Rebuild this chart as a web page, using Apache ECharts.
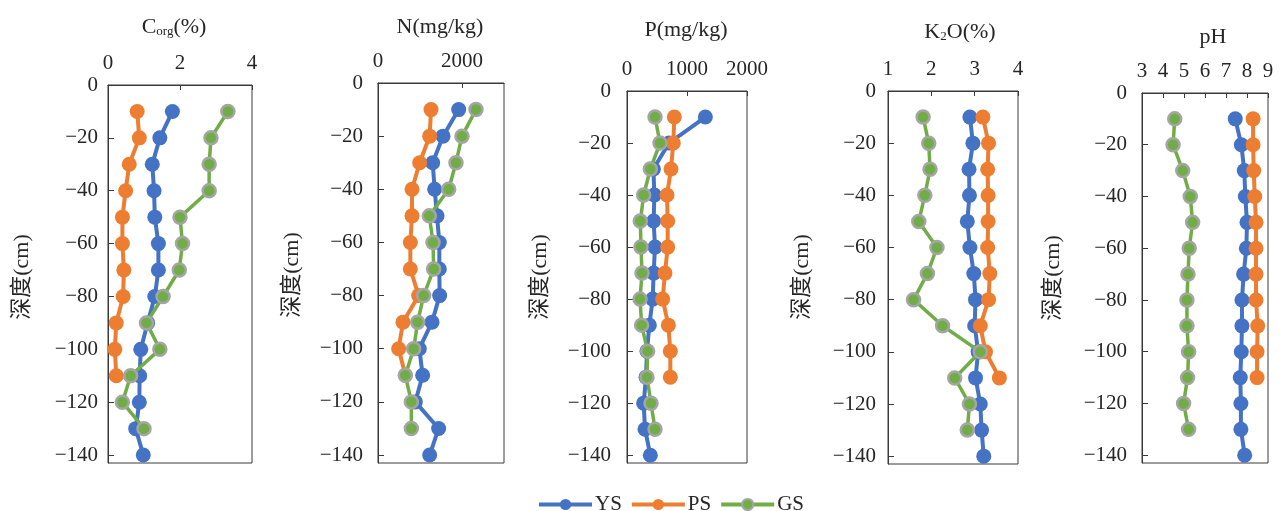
<!DOCTYPE html>
<html>
<head>
<meta charset="utf-8">
<script src="https://cdn.jsdelivr.net/npm/echarts@6/dist/echarts.min.js"></script>
<style>
html,body{margin:0;padding:0;background:#fff;}
#chart{width:1284px;height:511px;}
</style>
</head>
<body>
<div id="chart"></div>
<script>
// ---- data ----
const seriesNames = ['YS', 'PS', 'GS'];
const depthYS = [-10, -20, -30, -40, -50, -60, -70, -80, -90, -100, -110, -120, -130, -140];
const depthPS = [-10, -20, -30, -40, -50, -60, -70, -80, -90, -100, -110];
const depthGS = [-10, -20, -30, -40, -50, -60, -70, -80, -90, -100, -110, -120, -130];
const depthTicks = [0, -20, -40, -60, -80, -100, -120, -140];

const corgYS = [1.79, 1.44, 1.23, 1.28, 1.30, 1.40, 1.40, 1.30, 1.10, 0.91, 0.88, 0.87, 0.77, 0.98];
const corgPS = [0.81, 0.87, 0.59, 0.49, 0.40, 0.40, 0.44, 0.42, 0.23, 0.19, 0.23];
const corgGS = [3.33, 2.86, 2.81, 2.81, 2.00, 2.07, 1.98, 1.53, 1.07, 1.44, 0.63, 0.40, 1.00];

const nYS = [1921, 1548, 1302, 1349, 1405, 1460, 1460, 1468, 1286, 984, 1063, 889, 1444, 1230];
const nPS = [1262, 1230, 992, 810, 810, 770, 770, 968, 595, 492, 651];
const nGS = [2333, 2000, 1857, 1683, 1222, 1310, 1325, 1087, 944, 849, 651, 794, 794];

const pYS = [1306, 700, 440, 456, 444, 467, 444, 428, 372, 333, 317, 278, 300, 389];
const pPS = [789, 772, 733, 667, 678, 678, 633, 594, 689, 722, 722];
const pGS = [467, 550, 389, 278, 222, 233, 250, 217, 244, 344, 333, 400, 467];

const kYS = [2.89, 2.96, 2.87, 2.88, 2.83, 2.89, 2.98, 3.02, 3.00, 3.08, 3.02, 3.13, 3.16, 3.21];
const kPS = [3.19, 3.32, 3.30, 3.31, 3.31, 3.30, 3.35, 3.32, 3.13, 3.25, 3.57];
const kGS = [1.81, 1.94, 1.97, 1.85, 1.71, 2.13, 1.91, 1.59, 2.26, 3.13, 2.54, 2.88, 2.83];

const phYS = [7.44, 7.73, 7.87, 7.92, 8.00, 7.97, 7.84, 7.76, 7.76, 7.73, 7.68, 7.71, 7.71, 7.89];
const phPS = [8.29, 8.29, 8.32, 8.37, 8.43, 8.43, 8.43, 8.43, 8.51, 8.48, 8.48];
const phGS = [4.56, 4.48, 4.94, 5.30, 5.41, 5.25, 5.19, 5.14, 5.14, 5.22, 5.17, 4.98, 5.22];

const xTicksCorg = [0, 2, 4];
const xTicksN = [0, 2000];
const xTicksP = [0, 1000, 2000];
const xTicksK = [1, 2, 3, 4];
const xTicksPH = [3, 4, 5, 6, 7, 8, 9];

const yName = '深度(cm)';
// ---- layout / styles ----
const FONT = '"Liberation Serif", "Times New Roman", "Noto Sans CJK SC", serif';
const TXT = '#262626';
const AX = '#3a3a3a';
const colors = {YS: '#4472C4', PS: '#ED7D31', GS: '#70AD47'};

const panels = [
  {vals: [corgYS, corgPS, corgGS], xmin: 0, xmax: 4, xt: xTicksCorg, left: 108, width: 144, top: 85, bottom: 463, ylm: 10,
   title: {x: 174, y: 27, rich: true}, yname: {x: 22, y: 277}},
  {vals: [nYS, nPS, nGS], xmin: 0, xmax: 3000, xt: xTicksN, left: 378, width: 126, top: 83, bottom: 463, ylm: 15,
   title: {x: 440, y: 27, text: 'N(mg/kg)'}, yname: {x: 292, y: 275}},
  {vals: [pYS, pPS, pGS], xmin: 0, xmax: 2000, xt: xTicksP, left: 627, width: 120, top: 91, bottom: 463, ylm: 16,
   title: {x: 686, y: 30, text: 'P(mg/kg)'}, yname: {x: 540, y: 277}},
  {vals: [kYS, kPS, kGS], xmin: 1, xmax: 4, xt: xTicksK, left: 888, width: 130, top: 91, bottom: 464, ylm: 12,
   title: {x: 960, y: 32, rich: 'k'}, yname: {x: 802, y: 277}},
  {vals: [phYS, phPS, phGS], xmin: 3, xmax: 9, xt: xTicksPH, left: 1142, width: 126, top: 93, bottom: 463, ylm: 15,
   title: {x: 1213, y: 37, text: 'pH'}, yname: {x: 1053, y: 278}}
];
const depths = [depthYS, depthPS, depthGS];

const grids = [], xAxes = [], yAxes = [], series = [], graphics = [];
panels.forEach((p, i) => {
  grids.push({left: p.left, width: p.width, top: p.top, height: p.bottom - p.top,
    show: true, borderColor: AX, borderWidth: 1, backgroundColor: 'transparent'});
  xAxes.push({type: 'value', gridIndex: i, position: 'top', min: p.xmin, max: p.xmax,
    axisLine: {show: true, onZero: false, lineStyle: {color: AX, width: 1}},
    axisTick: {show: true, inside: true, length: 5, lineStyle: {color: AX}, customValues: p.xt},
    axisLabel: {show: true, margin: 11, fontFamily: FONT, fontSize: 21, color: TXT, customValues: p.xt,
      formatter: v => String(v)},
    splitLine: {show: false}});
  yAxes.push({type: 'value', gridIndex: i, min: -143, max: 0,
    axisLine: {show: true, onZero: false, lineStyle: {color: AX, width: 1}},
    axisTick: {show: true, inside: true, length: 6, lineStyle: {color: AX}, customValues: depthTicks},
    axisLabel: {show: true, margin: p.ylm, fontFamily: FONT, fontSize: 21, color: TXT, customValues: depthTicks,
      formatter: v => v < 0 ? '\u2212' + Math.abs(v) : String(v)},
    splitLine: {show: false}});
  seriesNames.forEach((nm, k) => {
    const data = p.vals[k].map((v, j) => [v, depths[k][j]]);
    const isGS = nm === 'GS';
    series.push({type: 'line', name: nm, xAxisIndex: i, yAxisIndex: i, data: data,
      symbol: 'circle', symbolSize: isGS ? 13 : 15, smooth: false,
      lineStyle: {color: colors[nm], width: isGS ? 3.5 : 4},
      itemStyle: {color: colors[nm], borderColor: isGS ? '#A5A5A5' : colors[nm], borderWidth: isGS ? 2.5 : 0},
      emphasis: {disabled: true}, animation: false, z: 2 + k});
  });
  // title
  let tstyle;
  if (p.title.rich === true) {
    tstyle = {text: 'C{s|org}(%)', rich: {s: {fontSize: 13, fontFamily: FONT, fill: TXT, padding: [10, 0, 0, 0]}}};
  } else if (p.title.rich === 'k') {
    tstyle = {text: 'K{s|2}O(%)', rich: {s: {fontSize: 13, fontFamily: FONT, fill: TXT, padding: [10, 0, 0, 0]}}};
  } else {
    tstyle = {text: p.title.text};
  }
  graphics.push({type: 'text', x: p.title.x, y: p.title.y, silent: true,
    style: Object.assign({fontSize: 22, fontFamily: FONT, fill: TXT, align: 'center', verticalAlign: 'middle'}, tstyle)});
  graphics.push({type: 'text', x: p.yname.x, y: p.yname.y, rotation: Math.PI / 2, silent: true,
    style: {text: yName, fontSize: 22, fontFamily: FONT, fill: TXT, align: 'center', verticalAlign: 'middle'}});
});

const chart = echarts.init(document.getElementById('chart'), null, {renderer: 'canvas'});
chart.setOption({
  animation: false,
  backgroundColor: '#fff',
  grid: grids,
  xAxis: xAxes,
  yAxis: yAxes,
  series: series,
  graphic: graphics,
  legend: {data: seriesNames, left: 532, top: 489, itemWidth: 53, itemHeight: 14, itemGap: 8,
    lineStyle: {width: 4}, itemStyle: {},
    textStyle: {fontFamily: FONT, fontSize: 21, color: TXT, padding: [0, 0, 0, -2]}}
});
</script>
</body>
</html>
